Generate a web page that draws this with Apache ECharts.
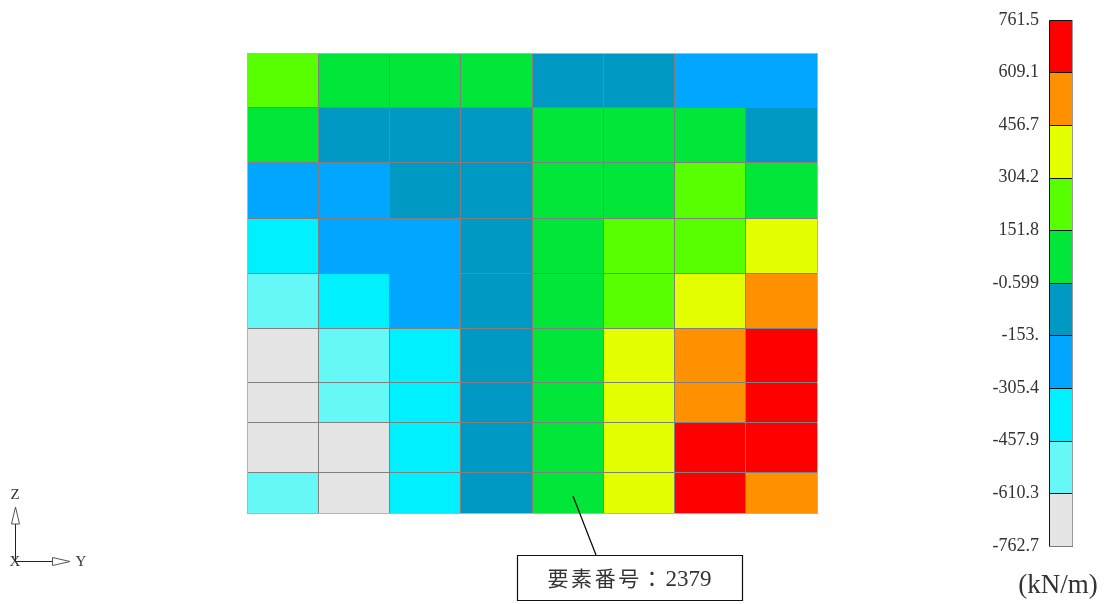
<!DOCTYPE html>
<html>
<head>
<meta charset="utf-8">
<style>
html, body { margin: 0; padding: 0; background: #fff; }
#chart { width: 1105px; height: 604px; }
</style>
<script src="https://cdn.jsdelivr.net/npm/echarts@6/dist/echarts.min.js"></script>
</head>
<body>
<div id="chart"></div>
<script>
// band limits of the legend, bottom to top
const breaks = [-762.7, -610.3, -457.9, -305.4, -153, -0.599, 151.8, 304.2, 456.7, 609.1, 761.5];
const tickLabels = ['-762.7', '-610.3', '-457.9', '-305.4', '-153.', '-0.599', '151.8', '304.2', '456.7', '609.1', '761.5'];
const bandColors = ['#e5e5e5', '#66f7f7', '#00f0ff', '#00a6ff', '#0099c4', '#00e639', '#58ff00', '#e4ff00', '#ff9000', '#ff0000'];

// mesh edges, rows are not evenly spaced
const rowEdges = [0, 54, 109, 165, 220, 275, 329, 369, 419, 460];
const colEdges = [0, 1, 2, 3, 4, 5, 6, 7, 8];

// element values (kN/m), read as the middle of each colour band
const row1 = [228, 76, 76, 76, -76, -76, -229, -229];
const row2 = [76, -76, -76, -76, 76, 76, 76, -76];
const row3 = [-229, -229, -76, -76, 76, 76, 228, 76];
const row4 = [-381, -229, -229, -76, 76, 228, 228, 380];
const row5 = [-534, -381, -229, -76, 76, 228, 380, 533];
const row6 = [-686, -534, -381, -76, 76, 380, 533, 685];
const row7 = [-686, -534, -381, -76, 76, 380, 533, 685];
const row8 = [-686, -686, -381, -76, 76, 380, 685, 685];
const row9 = [-534, -686, -381, -76, 76, 380, 685, 533];
const rows = [row1, row2, row3, row4, row5, row6, row7, row8, row9];

const elementLabel = ['要', '素', '番', '号'];
const elementNo = '2379';

const FONT = '"Liberation Serif", "Noto Sans CJK JP", serif';

function bandOf(v) {
    for (let i = 0; i < bandColors.length; i++) {
        if (v < breaks[i + 1]) return i;
    }
    return bandColors.length - 1;
}

let cells = [];
rows.forEach((row, r) => {
    row.forEach((v, c) => {
        cells.push([colEdges[c], colEdges[c + 1], rowEdges[r], rowEdges[r + 1], v]);
    });
});

let legendBands = bandColors.map((color, i) => [0, 1, breaks[i], breaks[i + 1], i]);

// snapped to whole pixels so the 1px lines stay crisp
function rectOf(api) {
    const p0 = api.coord([api.value(0), api.value(2)]);
    const p1 = api.coord([api.value(1), api.value(3)]);
    const x0 = Math.round(Math.min(p0[0], p1[0]));
    const y0 = Math.round(Math.min(p0[1], p1[1]));
    const x1 = Math.round(Math.max(p0[0], p1[0]));
    const y1 = Math.round(Math.max(p0[1], p1[1]));
    return { x: x0 + 0.5, y: y0 + 0.5, width: x1 - x0, height: y1 - y0 };
}

function label(text, x, y, size, extra) {
    return Object.assign({
        type: 'text',
        x: x,
        y: y,
        z: 100,
        style: { text: text, align: 'center', verticalAlign: 'middle', fontFamily: FONT, fontSize: size, fill: '#333' }
    }, extra);
}

function line(x1, y1, x2, y2, color, width) {
    return { type: 'line', z: 100, shape: { x1: x1, y1: y1, x2: x2, y2: y2 }, style: { stroke: color, lineWidth: width } };
}

const chart = echarts.init(document.getElementById('chart'));
chart.setOption({
    animation: false,
    backgroundColor: '#fff',
    textStyle: { fontFamily: FONT },
    grid: [
        { left: 246.7, top: 53, width: 570, height: 460 },
        { left: 1049, top: 19.8, width: 23, height: 526 }
    ],
    xAxis: [
        { gridIndex: 0, type: 'value', min: 0, max: 8, show: false },
        { gridIndex: 1, type: 'value', min: 0, max: 1, show: false }
    ],
    yAxis: [
        { gridIndex: 0, type: 'value', min: 0, max: 460, inverse: true, show: false },
        {
            gridIndex: 1,
            type: 'value',
            min: breaks[0],
            max: breaks[breaks.length - 1],
            splitLine: { show: false },
            axisLine: { show: false },
            axisTick: { show: false },
            axisLabel: {
                customValues: breaks,
                margin: 10,
                padding: [3, 0, 0, 0],
                fontFamily: FONT,
                fontSize: 18,
                color: '#333',
                formatter: (v) => tickLabels[breaks.indexOf(v)]
            }
        }
    ],
    series: [
        // fills first, then the mesh lines on top of all of them
        {
            type: 'custom',
            xAxisIndex: 0,
            yAxisIndex: 0,
            clip: false,
            silent: true,
            z: 2,
            data: cells,
            renderItem: (params, api) => ({
                type: 'rect',
                shape: rectOf(api),
                style: { fill: bandColors[bandOf(api.value(4))] }
            })
        },
        {
            type: 'custom',
            xAxisIndex: 0,
            yAxisIndex: 0,
            clip: false,
            silent: true,
            z: 3,
            data: cells,
            renderItem: (params, api) => ({
                type: 'rect',
                shape: rectOf(api),
                style: { fill: 'none', stroke: '#808080', lineWidth: 1 }
            })
        },
        {
            type: 'custom',
            xAxisIndex: 1,
            yAxisIndex: 1,
            clip: false,
            silent: true,
            z: 2,
            data: legendBands,
            renderItem: (params, api) => ({
                type: 'rect',
                shape: rectOf(api),
                style: { fill: bandColors[api.value(4)], stroke: '#111', lineWidth: 1 }
            })
        }
    ],
    graphic: [
        // light frame round the mesh
        line(247.5, 53.5, 817.5, 53.5, '#b4b4b4', 1),
        line(247.5, 53.5, 247.5, 513.5, '#b4b4b4', 1),
        line(247.5, 513.5, 817.5, 513.5, '#b4b4b4', 1),
        line(817.5, 53.5, 817.5, 513.5, '#b4b4b4', 1),
        // legend shadow edge
        line(1072.5, 20, 1072.5, 546, '#999', 1),
        line(1049, 546.5, 1073, 546.5, '#777', 1),
        // unit
        label('(kN/m)', 1058, 586, 27),
        // callout
        line(573, 496, 596, 555, '#000', 1.2),
        { type: 'rect', z: 100, shape: { x: 517.5, y: 555.5, width: 225, height: 45 }, style: { fill: '#fff', stroke: '#111', lineWidth: 1.2 } },
        ...elementLabel.map((ch, i) => label(ch, 558 + i * 23.6, 580, 21, { z: 101 })),
        label('：', 652, 580, 21, { z: 101 }),
        label(elementNo, 688.5, 580, 23, { z: 101 }),
        // global axes
        line(15.5, 561.5, 15.5, 507, '#222', 1),
        line(15.5, 561.5, 70, 561.5, '#222', 1),
        { type: 'polygon', z: 100, shape: { points: [[15.5, 507], [11.5, 524], [19.5, 524]] }, style: { fill: '#fff', stroke: '#555', lineWidth: 1 } },
        { type: 'polygon', z: 100, shape: { points: [[70, 561.5], [52.5, 557.5], [52.5, 565.5]] }, style: { fill: '#fff', stroke: '#555', lineWidth: 1 } },
        label('Z', 15, 495, 15),
        label('X', 15, 562, 15),
        label('Y', 81, 562, 15)
    ]
});
</script>
</body>
</html>
